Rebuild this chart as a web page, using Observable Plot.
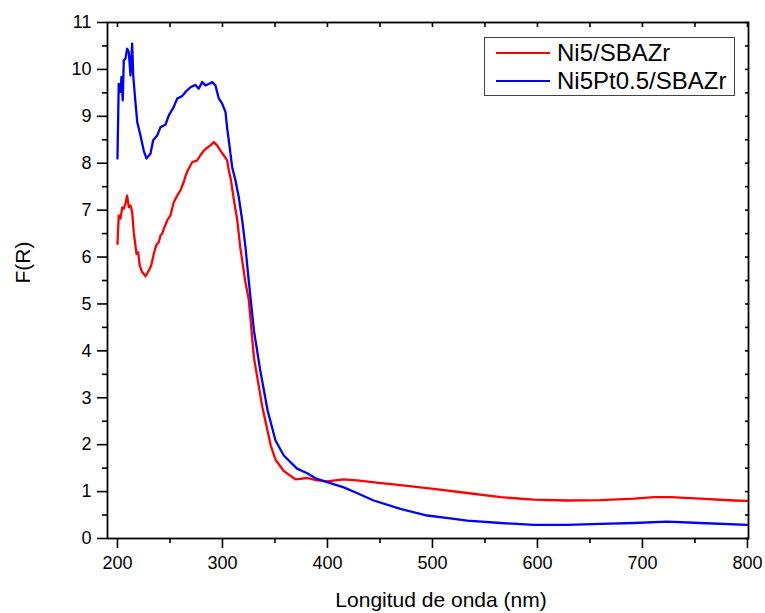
<!DOCTYPE html>
<html><head><meta charset="utf-8">
<script src="https://cdn.jsdelivr.net/npm/d3@7"></script>
<script src="https://cdn.jsdelivr.net/npm/@observablehq/plot@0.6"></script>
<style>
body{margin:0;background:#fff;font-family:"Liberation Sans",Arial,sans-serif;}
#wrap{position:relative;width:765px;height:613px;}
#legend{position:absolute;left:484px;top:37px;width:251px;height:59px;border:1px solid #444;box-sizing:border-box;background:#fff;}
.row{position:absolute;left:11px;height:26px;display:flex;align-items:center;font-size:24px;color:#000;white-space:nowrap;}
.sw{display:inline-block;width:54px;height:2px;margin-right:7px;}
</style></head>
<body><div id="wrap"></div>
<script>
const seriesNames = ["Ni5/SBAZr", "Ni5Pt0.5/SBAZr"];
const seriesColors = ["#ff0000", "#0000ff"];

const redWave = [200,201.2,202.9,204.5,206,207.6,209.2,210.8,212.4,214,215.5,218.1,219.7,221.2,223.5,226.7,229.8,232.1,234.6,236.9,239.4,241,242.6,244.1,247.3,250.5,253.6,256.9,260,263.1,265,267,271.1,275.9,279,282.2,285.4,288.6,291.7,294.9,298.1,301.2,304.5,306,308,311,314,317,321.9,325,330,338,346,350.5,358.4,369.5,380.7,390,399.7,415.5,428,447,469.5,501,533,565,596.5,628,660,692,711,727,755,787,800];
const redF = [6.28,6.89,6.82,7.06,7.03,7.14,7.31,7.06,7.10,6.96,6.53,6.07,6.10,5.82,5.68,5.59,5.71,5.82,6.07,6.25,6.32,6.46,6.50,6.60,6.78,6.89,7.17,7.31,7.42,7.60,7.74,7.85,8.02,8.06,8.17,8.27,8.33,8.38,8.45,8.38,8.27,8.17,8.06,7.85,7.65,7.2,6.80,6.20,5.45,5.10,3.85,2.80,1.98,1.68,1.44,1.26,1.29,1.24,1.22,1.26,1.24,1.19,1.14,1.06,0.97,0.88,0.83,0.81,0.82,0.85,0.88,0.88,0.85,0.81,0.80];

const blueWave = [200,201.2,202.9,203.8,205,206,207.6,209.2,210.8,212.4,214,215,217.1,218.8,221.9,225,227.6,231.4,234,237.8,241,245.7,248.9,253.6,256.9,261.6,264.8,269.5,274.3,277.4,280.7,283.8,287,290.2,293.3,296.5,299.7,302.9,304.5,306,309.2,312.4,315.5,318.8,321.9,325,330,336,343,350.5,358.4,371,380.7,390,399.7,415.5,428,444,469.5,495,517,533,565,596.5,628,660,692,723.5,755,800];
const blueF = [8.10,9.69,9.52,9.84,9.34,10.19,10.23,10.44,10.37,9.87,10.55,9.87,9.30,8.88,8.59,8.27,8.10,8.20,8.49,8.59,8.77,8.82,9.02,9.20,9.38,9.43,9.52,9.62,9.67,9.59,9.73,9.66,9.69,9.73,9.66,9.38,9.27,9.09,8.74,8.49,7.92,7.63,7.28,6.78,6.21,5.50,4.43,3.58,2.73,2.09,1.77,1.49,1.39,1.27,1.20,1.09,0.97,0.81,0.63,0.49,0.43,0.38,0.33,0.29,0.29,0.31,0.33,0.36,0.33,0.29];

const xTicks = [200,300,400,500,600,700,800];
const xMinorTicks = [250,350,450,550,650,750];
const yTicks = [0,1,2,3,4,5,6,7,8,9,10,11];
const yMinorTicks = [0.5,1.5,2.5,3.5,4.5,5.5,6.5,7.5,8.5,9.5,10.5];
const xLabel = "Longitud de onda (nm)";
const yLabel = "F(R)";

const data = [
  ...redWave.map((w, i) => ({w, f: redF[i], s: seriesNames[0]})),
  ...blueWave.map((w, i) => ({w, f: blueF[i], s: seriesNames[1]}))
];
const blank = () => "";

const chart = Plot.plot({
  width: 765, height: 613,
  marginLeft: 107, marginRight: 17, marginTop: 22, marginBottom: 75,
  style: {fontFamily: '"Liberation Sans", Arial, sans-serif', color: "#000", background: "#fff"},
  x: {domain: [190.5, 801]},
  y: {domain: [0, 11]},
  color: {domain: seriesNames, range: seriesColors},
  marks: [
    Plot.line(data, {x: "w", y: "f", z: "s", stroke: "s", strokeWidth: 2.3, strokeLinejoin: "round"}),
    Plot.frame({stroke: "#000", strokeWidth: 1.8}),
    Plot.axisX({ticks: xTicks, tickSize: 10, tickPadding: 8, fontSize: 18, label: null, strokeWidth: 1.6}),
    Plot.axisX({ticks: xMinorTicks, tickSize: 5, tickFormat: blank, label: null, strokeWidth: 1.6}),
    Plot.axisX({anchor: "top", ticks: [...xTicks, ...xMinorTicks], tickSize: -4, tickFormat: blank, label: null, strokeWidth: 1.6}),
    Plot.axisY({ticks: yTicks, tickSize: 10, tickPadding: 6, fontSize: 18, label: null, strokeWidth: 1.6}),
    Plot.axisY({ticks: yMinorTicks, tickSize: 5, tickFormat: blank, label: null, strokeWidth: 1.6}),
    Plot.axisY({anchor: "right", ticks: [...yTicks, ...yMinorTicks], tickSize: -4, tickFormat: blank, label: null, strokeWidth: 1.6}),
    Plot.text([xLabel], {frameAnchor: "bottom", dx: 13, dy: 62, fontSize: 21, lineAnchor: "middle"}),
    Plot.text([yLabel], {frameAnchor: "left", dx: -84, dy: 3, rotate: -90, fontSize: 21})
  ]
});
const wrap = document.getElementById("wrap");
wrap.appendChild(chart);

const legend = document.createElement("div");
legend.id = "legend";
seriesNames.forEach((name, i) => {
  const row = document.createElement("div");
  row.className = "row";
  row.style.top = (2 + i * 28) + "px";
  const sw = document.createElement("span");
  sw.className = "sw";
  sw.style.background = seriesColors[i];
  row.appendChild(sw);
  row.appendChild(document.createTextNode(name));
  legend.appendChild(row);
});
wrap.appendChild(legend);
</script>
</body></html>
